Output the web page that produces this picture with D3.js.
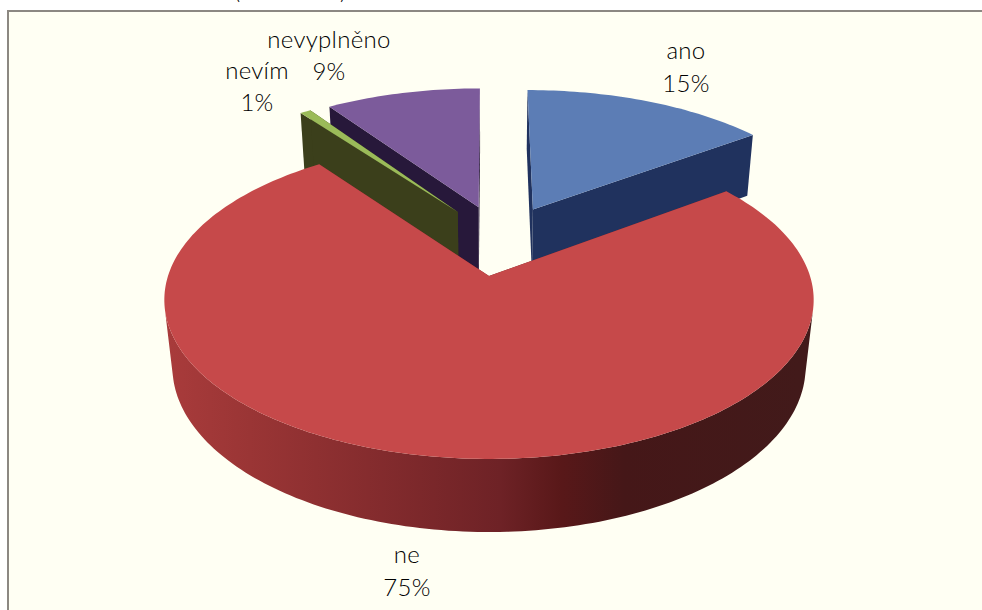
<!DOCTYPE html>
<head>
    <meta charset="utf-8">
    <title>Kolacovy graf</title>
    <script src="https://d3js.org/d3.v7.min.js"></script>
    <style>
        html, body { margin: 0; padding: 0; background: #fff; overflow: hidden; }
        text { font-family: Lato, "Open Sans", sans-serif; font-weight: 300; fill: #000; letter-spacing: 0.3px; }
    </style>
</head>
<body>
<div id="container"></div>
<script>
    //------------------------------DATA----------------------------//
    const categories = ["ano", "ne", "nevím", "nevyplněno"];
    const shares = [14.9, 75, 0.65, 9.45]; // the labels are rounded
    const shareLabels = ["15%", "75%", "1%", "9%"];

    //-----------------------------STYLE----------------------------//
    const width = 982, height = 610;
    const topColors = ["#5c7db5", "#c6494a", "#9bbb59", "#7c5b9b"];
    const wallColors = ["#20325e", "#6d2226", "#3b3f1b", "#27183a"];
    const labelAt = [[686, 59, 92], [407, 563, 596], [257, 79, 111], [329, 48, 80]];
    const paintOrder = [3, 2, 0, 1];

    // 3d pie: explosion is measured in radii, red slice apex is the origin
    const explode = 0.243;
    const cam = { cx: 489, cy: 276, b: 321, a: 155.5, p: 0.15, h: 68.5, q: 0.025 };

    function project(u, v, low) {
        const w = 1 - cam.p * v + (low ? cam.q : 0);
        return [cam.cx + cam.b * u / w, cam.cy + (cam.a * v + (low ? cam.h : 0)) / w];
    }

    const slices = d3.pie().sort(null).value(d => d)(shares);
    const midOf = s => (s.startAngle + s.endAngle) / 2;
    const red = slices[1];
    const centre = [-explode * Math.sin(midOf(red)), explode * Math.cos(midOf(red))];

    function apexOf(s) {
        return [centre[0] + explode * Math.sin(midOf(s)), centre[1] - explode * Math.cos(midOf(s))];
    }

    function rim(s, low) {
        const a = apexOf(s);
        const n = Math.max(2, Math.ceil((s.endAngle - s.startAngle) / 0.02));
        return d3.range(n + 1).map(i => {
            const t = s.startAngle + (s.endAngle - s.startAngle) * i / n;
            return project(a[0] + Math.sin(t), a[1] - Math.cos(t), low);
        });
    }

    const line = d3.line();
    const shadeX = [170, 250, 500, 560, 625, 800];
    const redWall = d3.scaleLinear()
        .domain(shadeX)
        .range(["#a83b3b", "#9a3535", "#6e2226", "#591819", "#451718", "#421a1a"]);
    const xOffset = d3.scaleLinear().domain([170, 800]).range([0, 1]);

    //-----------------------------DRAW-----------------------------//
    const svg = d3.select("#container").append("svg")
        .attr("width", width).attr("height", height)
        .style("display", "block");

    const grad = svg.append("defs").append("linearGradient")
        .attr("id", "redWall")
        .attr("gradientUnits", "userSpaceOnUse")
        .attr("x1", 170).attr("x2", 800).attr("y1", 0).attr("y2", 0);
    shadeX.forEach(x => {
        grad.append("stop").attr("offset", xOffset(x)).attr("stop-color", redWall(x));
    });

    svg.append("rect").attr("x", 8).attr("y", 11)
        .attr("width", width + 10).attr("height", height)
        .attr("fill", "#fffff3").attr("stroke", "#8c8882").attr("stroke-width", 2);

    // cut off title, only the bottom of it is in the picture
    svg.append("text").attr("x", 234).attr("y", -1).attr("font-size", 24).text("(");
    svg.append("text").attr("x", 340).attr("y", -1).attr("font-size", 24).text(")");

    const pieG = svg.append("g");
    paintOrder.forEach(i => {
        const s = slices[i];
        const a = apexOf(s);
        const g = pieG.append("g");
        const top = rim(s, false), low = rim(s, true);
        const apexTop = project(a[0], a[1], false), apexLow = project(a[0], a[1], true);

        // radial walls
        [0, top.length - 1].forEach(e => {
            g.append("path")
                .attr("d", line([apexTop, top[e], low[e], apexLow]) + "Z")
                .attr("fill", wallColors[i]);
        });
        // rim wall, only the quads facing the viewer, all in one path so no seams
        const rimPath = top.slice(1)
            .map((p, k) => [top[k], p, low[k + 1], low[k]])
            .filter(q => d3.polygonArea(q) > 0)
            .map(q => line(q) + "Z")
            .join("");
        g.append("path")
            .attr("d", rimPath)
            .attr("fill", i === 1 ? "url(#redWall)" : wallColors[i]);
        g.append("path")
            .attr("d", line([apexTop].concat(top)) + "Z")
            .attr("fill", topColors[i]);
    });

    categories.forEach((c, i) => {
        svg.append("text").attr("x", labelAt[i][0]).attr("y", labelAt[i][1])
            .attr("text-anchor", "middle").attr("font-size", 24).text(c);
        svg.append("text").attr("x", labelAt[i][0]).attr("y", labelAt[i][2])
            .attr("text-anchor", "middle").attr("font-size", 24).text(shareLabels[i]);
    });
</script>
</body>
